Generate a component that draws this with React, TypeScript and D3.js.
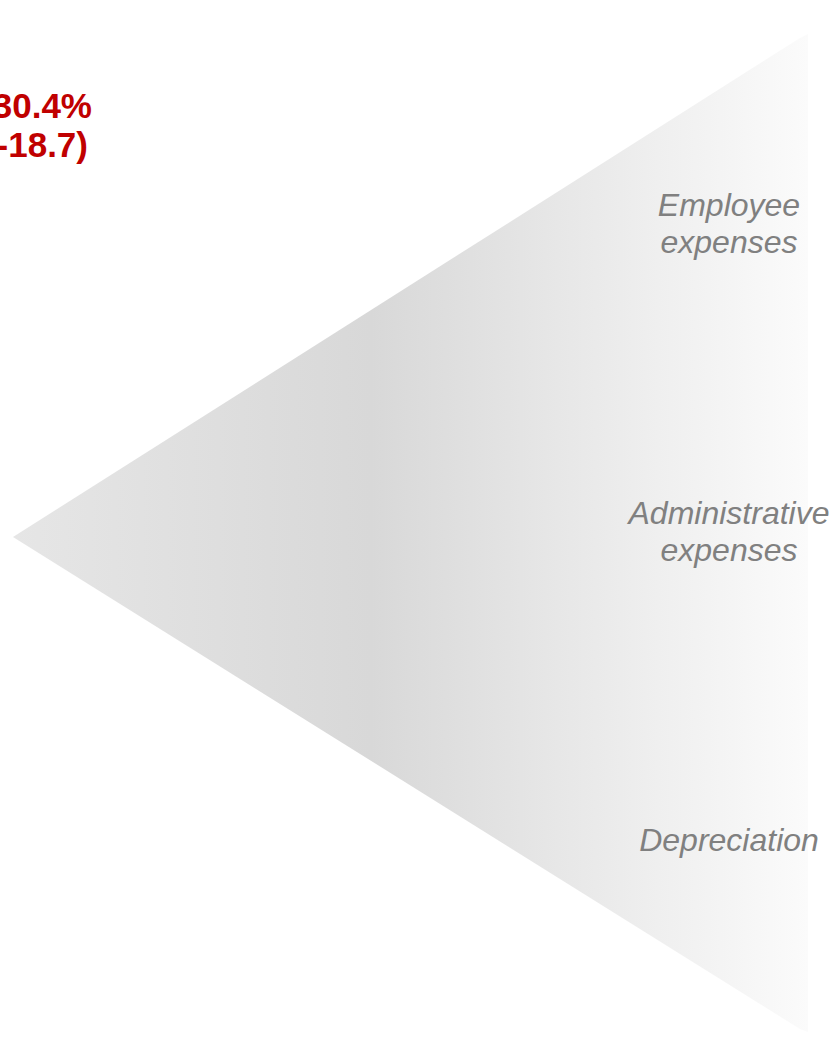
import React from "react";
import * as d3 from "d3";

const categories: string[][] = [
  ["Employee", "expenses"],
  ["Administrative", "expenses"],
  ["Depreciation"],
];
const headlineLines: string[] = ["30.4%", "(-18.7)"];

const W = 829;
const H = 1038;

export default function App() {
  const tip: [number, number] = [13, 537];
  const rightX = 808;
  const topY = 38;
  const botY = 1032;

  const tri = d3.line()([
    tip,
    [rightX - 8, topY],
    [rightX, topY - 4],
    [rightX, botY],
    [rightX - 8, botY - 3],
  ]) + "Z";

  const yScale = d3
    .scalePoint<string>()
    .domain(categories.map((c) => c.join(" ")))
    .range([224, 841]);

  const lineH = 37;

  return (
    <svg
      width={W}
      height={H}
      style={{ position: "absolute", left: 0, top: 0, display: "block" }}
      fontFamily="'Liberation Sans', Arial, sans-serif"
    >
      <defs>
        <linearGradient id="g" x1={tip[0]} x2={rightX} y1={0} y2={0} gradientUnits="userSpaceOnUse">
          <stop offset="0" stopColor="#e6e6e6" />
          <stop offset="0.45" stopColor="#d8d8d8" />
          <stop offset="1" stopColor="#fbfbfb" />
        </linearGradient>
      </defs>
      <rect width={W} height={H} fill="#ffffff" />
      <path d={tri} fill="url(#g)" />
      {categories.map((lines) => {
        const key = lines.join(" ");
        const cy = yScale(key)!;
        const n = lines.length;
        return (
          <text
            key={key}
            x={729}
            textAnchor="middle"
            fontStyle="italic"
            fontSize={32}
            fill="#808080"
          >
            {lines.map((l, i) => (
              <tspan key={i} x={729} y={cy + (i - (n - 1) / 2) * lineH + 10}>
                {l}
              </tspan>
            ))}
          </text>
        );
      })}
      {headlineLines.map((l, i) => (
        <text
          key={i}
          x={i === 0 ? 92 : 88}
          y={118 + i * 39}
          textAnchor="end"
          fontWeight="bold"
          fontSize={35}
          fill="#c00000"
        >
          {l}
        </text>
      ))}
    </svg>
  );
}
